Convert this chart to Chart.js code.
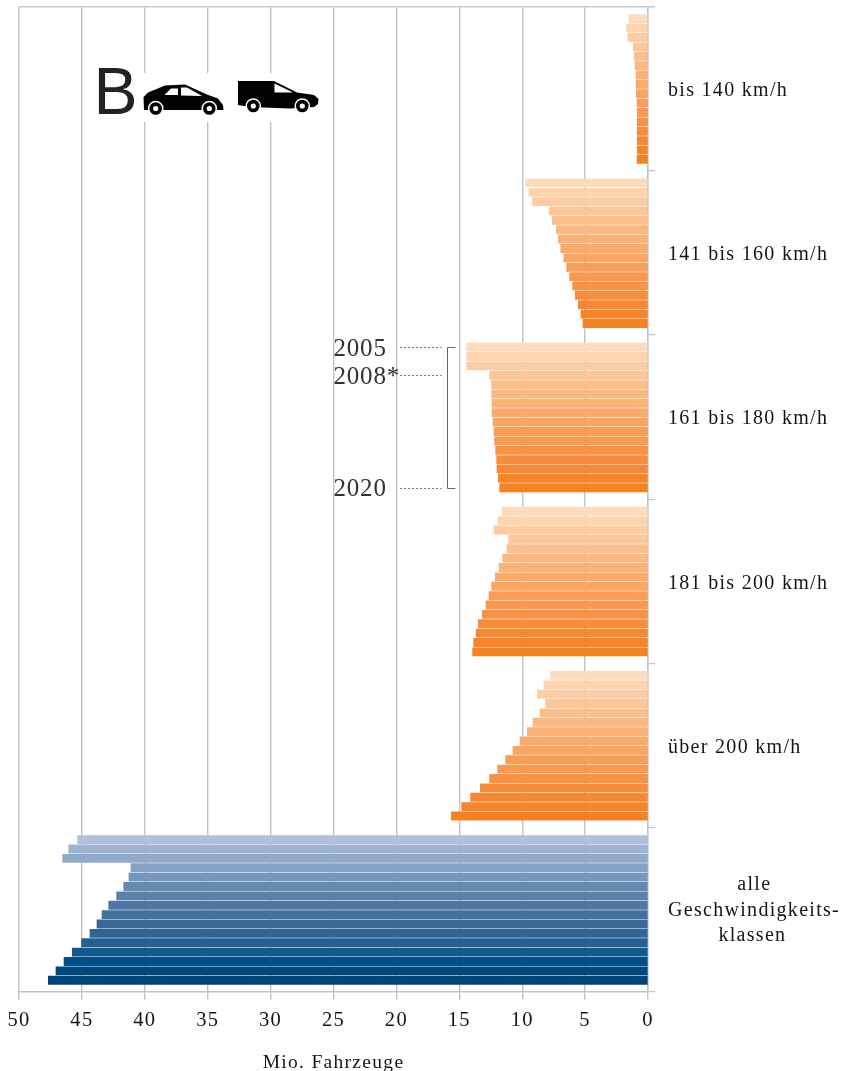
<!DOCTYPE html>
<html><head><meta charset="utf-8">
<style>html,body{margin:0;padding:0;background:#fff}canvas{display:block}</style>
<script src="https://cdn.jsdelivr.net/npm/chart.js@4"></script>
</head><body>
<canvas id="c" width="845" height="1071"></canvas>
<script>
const years = [2005,2006,2007,2008,2009,2010,2011,2012,2013,2014,2015,2016,2017,2018,2019,2020];
const groupLabels = ["bis 140 km/h","141 bis 160 km/h","161 bis 180 km/h","181 bis 200 km/h","über 200 km/h",
  ["           alle","Geschwindigkeits-","        klassen"]];
const xTicks = [50,45,40,35,30,25,20,15,10,5,0];
const bis140 = [1.5,1.7,1.6,1.17,1.09,1.03,0.95,0.95,0.93,0.87,0.85,0.85,0.85,0.85,0.85,0.87];
const bis160 = [9.72,9.46,9.19,7.84,7.6,7.29,7.13,6.94,6.7,6.47,6.23,5.99,5.78,5.54,5.33,5.17];
const bis180 = [14.41,14.41,14.41,12.59,12.45,12.43,12.4,12.4,12.32,12.24,12.19,12.11,12.03,12.0,11.9,11.79];
const bis200 = [11.6,11.92,12.24,11.08,11.2,11.55,11.84,12.14,12.43,12.64,12.88,13.17,13.49,13.67,13.86,13.94];
const ueber200 = [7.74,8.27,8.8,8.13,8.59,9.14,9.59,10.17,10.73,11.31,11.95,12.59,13.33,14.1,14.81,15.63];
const alle = [45.34,46.05,46.53,41.1,41.26,41.68,42.24,42.87,43.4,43.8,44.36,45.02,45.76,46.42,47.06,47.67];
const groups = [bis140,bis160,bis180,bis200,ueber200,alle];
const blueShades = ['#aec0db','#9fb4d4','#8faacb','#85a2c5','#7597bd','#668bb3','#5a80ab','#4f77a3','#44709d','#3a6998','#2f6495','#275f92','#12588c','#014f84','#00497e','#004479'];
const orangeShades = ['#fddbbc','#fdd4ae','#fccda4','#fcc698','#fcbf8c','#fbb981','#fbb277','#faab6c','#faa561','#f99e57','#f9984e','#f89245','#f78d3c','#f78833','#f6852a','#f58220'];

const FIRST=0.0735, PITCH=0.0571;
const yearY=(g,i)=>g+FIRST+i*PITCH;
const datasets=groups.map((vals,g)=>({
  label:g<5?groupLabels[g]:"alle Geschwindigkeitsklassen",
  data:vals.map((v,i)=>({x:v,y:yearY(g,i)})),
  backgroundColor:g<5?orangeShades:blueShades,
  barThickness:8.2, borderWidth:0, grouped:false
}));
const serif='"Liberation Serif"', TXT='#151515', GRID='#b9c4d1';
const SPACING='1.3px';
const deco={id:'deco',
  beforeInit(c){c.ctx.letterSpacing=SPACING;},
  beforeDraw(c){c.ctx.letterSpacing=SPACING;},
  beforeDatasetsDraw(c){
    const ctx=c.ctx,a=c.chartArea;
    ctx.save();ctx.strokeStyle='#c3ccd6';ctx.lineWidth=1.6;ctx.beginPath();
    ctx.moveTo(a.left,a.top);ctx.lineTo(a.right+7,a.top);ctx.stroke();ctx.restore();
  },
  afterDraw(c){
    const x=c.scales.x,y=c.scales.y,ctx=c.ctx;
    ctx.save();
    const yr=[[0,'2005'],[3,'2008*'],[15,'2020']];
    ctx.font='25px '+serif;ctx.fillStyle='#333';ctx.textBaseline='middle';ctx.textAlign='left';ctx.letterSpacing='0.8px';
    const gY=i=>y.getPixelForValue(yearY(2,i));
    yr.forEach(([i,t])=>{
      ctx.fillText(t,x.getPixelForValue(25),gY(i)+2);
      ctx.beginPath();ctx.setLineDash([2,2]);ctx.strokeStyle='#777';ctx.lineWidth=1;
      ctx.moveTo(x.getPixelForValue(19.7),Math.round(gY(i))+.5);ctx.lineTo(x.getPixelForValue(16.4),Math.round(gY(i))+.5);ctx.stroke();
    });
    ctx.setLineDash([]);ctx.strokeStyle='#666';ctx.lineWidth=1;ctx.beginPath();
    const bx=x.getPixelForValue(15.95);
    ctx.moveTo(bx+8,Math.round(gY(0))+.5);ctx.lineTo(Math.round(bx)+.5,Math.round(gY(0))+.5);
    ctx.lineTo(Math.round(bx)+.5,Math.round(gY(15))+.5);ctx.lineTo(bx+8,Math.round(gY(15))+.5);ctx.stroke();
    ctx.fillStyle='#fff';ctx.fillRect(90,73,232,49);
    ctx.fillStyle='#222';ctx.letterSpacing='0px';ctx.font='66px "Liberation Sans"';ctx.textBaseline='alphabetic';
    ctx.fillText('B',93.5,114);
    const poly=(p,f)=>{ctx.fillStyle=f;ctx.beginPath();p.forEach(([a,b],i)=>i?ctx.lineTo(a,b):ctx.moveTo(a,b));ctx.closePath();ctx.fill();};
    const wheel=(a,b)=>{ctx.fillStyle='#fff';ctx.beginPath();ctx.arc(a,b,7.8,0,7);ctx.fill();
      ctx.fillStyle='#000';ctx.beginPath();ctx.arc(a,b,6.3,0,7);ctx.fill();
      ctx.fillStyle='#fff';ctx.beginPath();ctx.arc(a,b,2.6,0,7);ctx.fill();};
    poly([[144,110],[143.5,97],[148,92.5],[165,85.5],[185,84.5],[207,94.5],[218,98.5],[223,105],[223.5,110]],'#000');
    poly([[164.5,95],[171,88.5],[178,88.5],[178,95]],'#fff');
    poly([[181,87.5],[187,87.5],[202,96],[181,95.5]],'#fff');
    wheel(155.7,108.5);wheel(209.3,108.5);
    poly([[238,81],[274,81],[297,92.5],[314,95],[318.5,99],[318,104],[314,107],[290,108.5],[250,107],[238,105]],'#000');
    poly([[274.5,83.5],[293,92.5],[274.5,92.5]],'#fff');
    wheel(253.3,106);wheel(302.3,106);
    ctx.restore();
  }
};
new Chart(document.getElementById('c'),{
  type:'bar',
  data:{datasets},
  plugins:[deco],
  options:{
    indexAxis:'y',responsive:false,animation:false,
    layout:{padding:{left:19,top:6.7,right:0,bottom:0}},
    plugins:{legend:{display:false},tooltip:{enabled:false}},
    scales:{
      x:{type:'linear',reverse:true,min:0,max:50,position:'bottom',
        afterFit(s){s.height=1071-991.7;},
        afterBuildTicks(s){s.ticks=xTicks.map(value=>({value}));},
        grid:{color:GRID,lineWidth:1.4,tickLength:8,tickColor:GRID},
        border:{color:GRID,width:1.4},
        ticks:{color:TXT,font:{family:serif,size:20.5},padding:8.5,maxRotation:0,autoSkip:false},
        title:{display:true,text:'Mio. Fahrzeuge',color:TXT,font:{family:serif,size:19.5},padding:{top:6,bottom:-3.5}}
      },
      y:{type:'linear',reverse:true,min:0,max:6,position:'right',offset:false,
        afterFit(s){s.width=845-648;s.paddingTop=0;s.paddingBottom=0;},
        afterBuildTicks(s){s.ticks=[0,.512,1,1.512,2,2.512,3,3.512,4,4.512,5,5.505,6].map(value=>({value}));},
        grid:{offset:false,drawOnChartArea:false,tickLength:7,color:GRID,lineWidth:c=>Number.isInteger(c.tick&&c.tick.value)?1.2:0},
        border:{color:GRID,width:1.4},
        ticks:{color:TXT,font:{family:serif,size:20,lineHeight:1.27},padding:13,autoSkip:false,
          callback:v=>Number.isInteger(v)?'':groupLabels[Math.floor(v)]}
      }
    }
  }
});
</script>
</body></html>
